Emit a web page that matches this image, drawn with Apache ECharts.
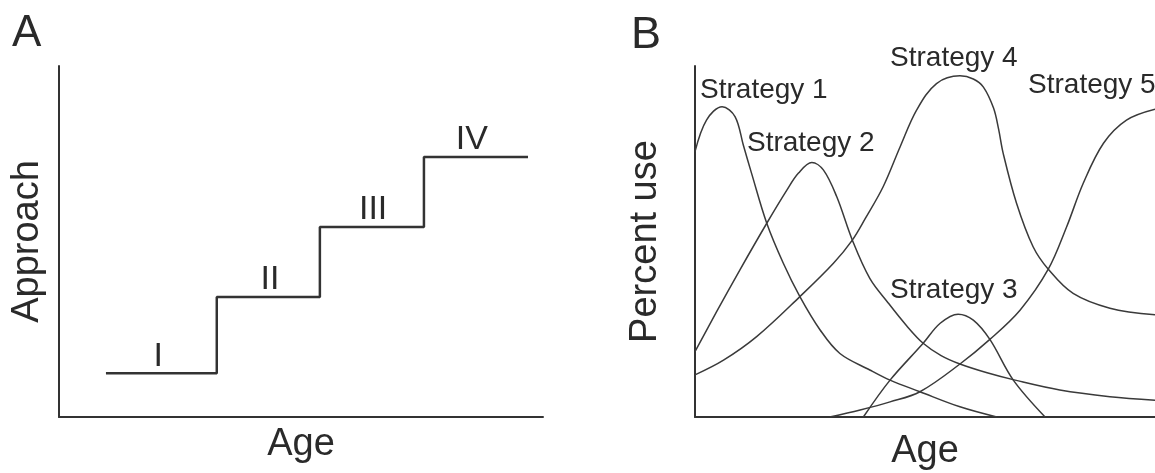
<!DOCTYPE html>
<html>
<head>
<meta charset="utf-8">
<script src="https://cdn.jsdelivr.net/npm/echarts@6/dist/echarts.min.js"></script>
<style>
html,body{margin:0;padding:0;background:#fff;}
#chart{width:1155px;height:473px;}
</style>
</head>
<body>
<div id="chart"></div>
<script>
// ---------- Panel A data ----------
const stageNames = ['I', 'II', 'III', 'IV'];
const stageStartX = [9.7, 32.6, 53.9, 75.4];
const stageEndX = 96.9;
const stageLevel = [12.5, 34.2, 54.1, 74.1];
const stageLabelX = [20.5, 43.6, 64.9, 85.3];

// ---------- Panel B data (x = age 0-100, y = percent use 0-100) ----------
const strategyNames = ['Strategy 1', 'Strategy 2', 'Strategy 3', 'Strategy 4', 'Strategy 5'];
const strategy1 = [[0,75.6],[2.5,84.6],[5.9,88.4],[8.7,85.6],[10.5,77.5],[12.3,69.4],[15.6,55.2],[19.2,43.8],[22.8,34.3],[27.2,24.8],[31.5,18.1],[38,13.4],[42.4,10.5],[48.9,7.2],[57.6,2.9],[65.6,0]];
const strategy2 = [[0,18.6],[4.7,30],[9.8,42],[15.6,55.2],[19.9,64.5],[22.5,69.5],[25.4,72.5],[27.9,70.4],[30.8,62.8],[34.2,50.4],[38,39.5],[42,32.5],[46,26],[49.6,21],[53.5,17.5],[57.6,15.1],[63.5,12.6],[69.6,10.5],[79.3,7.7],[90.2,5.8],[100,4.8]];
const strategy3 = [[36.6,0],[42.4,10.5],[49.6,21],[53.3,26.7],[57.2,29.3],[60.5,27.6],[64.1,22.1],[69.2,10.5],[76.1,0]];
const strategy4 = [[0,12],[6.2,16.2],[13.4,22.9],[22.8,34.3],[30.1,43.8],[34.2,50.4],[37,56.5],[40.9,65.6],[44.6,77],[48.2,87.5],[52.5,95],[57.6,97.2],[60.5,96.3],[62.7,94],[64.9,88],[66,82],[67,75.1],[69.9,60.9],[73.5,48.5],[76.8,42.1],[82.2,35.2],[90.2,31],[100,29.1]];
const strategy5 = [[29.3,0],[35.9,2],[42.4,4.3],[48.9,7.2],[57.6,15.1],[64.1,22.1],[70.7,30.5],[76.8,42.1],[80.8,54.2],[84.4,66.6],[88.8,78],[93.8,84.6],[100,87.7]];
const strategyLabelPos = [[1.1,93.2],[11.3,78.1],[42.4,36.2],[42.4,102.3],[72.4,94.6]];

const FONT = '"Liberation Sans", Arial, sans-serif';
const TXT = '#2a2a2a';
const LINE = '#3a3a3a';

const chart = echarts.init(document.getElementById('chart'), null, {renderer: 'canvas'});

function axisCommon(name, gap, isY) {
  return {
    type: 'value', min: 0, max: 100,
    name: name, nameLocation: 'middle', nameGap: gap,
    nameTextStyle: {fontFamily: FONT, fontSize: 38, color: TXT},
    nameRotate: isY ? 90 : 0,
    axisLine: {show: true, onZero: false, lineStyle: {color: '#333', width: 2}},
    axisTick: {show: false}, axisLabel: {show: false}, splitLine: {show: false}
  };
}

const stepData = stageStartX.map((x, i) => [x, stageLevel[i]]).concat([[stageEndX, stageLevel[stageLevel.length - 1]]]);
const stageLabelData = stageNames.map((n, i) => ({value: [stageLabelX[i], stageLevel[i]], name: n}));

const strategyData = [strategy1, strategy2, strategy3, strategy4, strategy5];
const strategySeries = strategyData.map((d, i) => ({
  type: 'line', xAxisIndex: 1, yAxisIndex: 1, data: d,
  smooth: 0.35, showSymbol: false, symbol: 'none', clip: false,
  lineStyle: {color: LINE, width: 1.5}, silent: true
}));

chart.setOption({
  backgroundColor: '#fff',
  animation: false,
  title: [
    {text: 'A', left: 12, top: 12, padding: 0, textStyle: {fontFamily: FONT, fontSize: 44, fontWeight: 'normal', color: TXT}},
    {text: 'B', left: 631, top: 13, padding: 0, textStyle: {fontFamily: FONT, fontSize: 45, fontWeight: 'normal', color: TXT}}
  ],
  grid: [
    {left: 59, right: 612, top: 66, bottom: 56, outerBoundsMode: 'none', containLabel: false},
    {left: 695, right: 0, top: 66, bottom: 56, outerBoundsMode: 'none', containLabel: false}
  ],
  xAxis: [
    Object.assign(axisCommon('Age', 9, false), {gridIndex: 0}),
    Object.assign(axisCommon('Age', 16, false), {gridIndex: 1})
  ],
  yAxis: [
    Object.assign(axisCommon('Approach', 12, true), {gridIndex: 0}),
    Object.assign(axisCommon('Percent use', 30, true), {gridIndex: 1})
  ],
  series: [
    {type: 'line', xAxisIndex: 0, yAxisIndex: 0, data: stepData, step: 'end',
     showSymbol: false, symbol: 'none', lineStyle: {color: '#333', width: 2.5}, silent: true},
    {type: 'scatter', xAxisIndex: 0, yAxisIndex: 0, data: stageLabelData, symbolSize: 0, silent: true,
     itemStyle: {opacity: 1},
     label: {show: true, position: 'top', distance: 0, formatter: p => p.name,
             fontFamily: FONT, fontSize: 34, color: TXT}},
    ...strategySeries,
    {type: 'scatter', xAxisIndex: 1, yAxisIndex: 1, clip: false, symbolSize: 0, silent: true,
     itemStyle: {opacity: 1},
     data: strategyNames.map((n, i) => ({value: strategyLabelPos[i], name: n})),
     label: {show: true, position: 'inside', align: 'left', verticalAlign: 'middle', formatter: p => p.name,
             fontFamily: FONT, fontSize: 28, color: TXT}}
  ]
});
</script>
</body>
</html>
